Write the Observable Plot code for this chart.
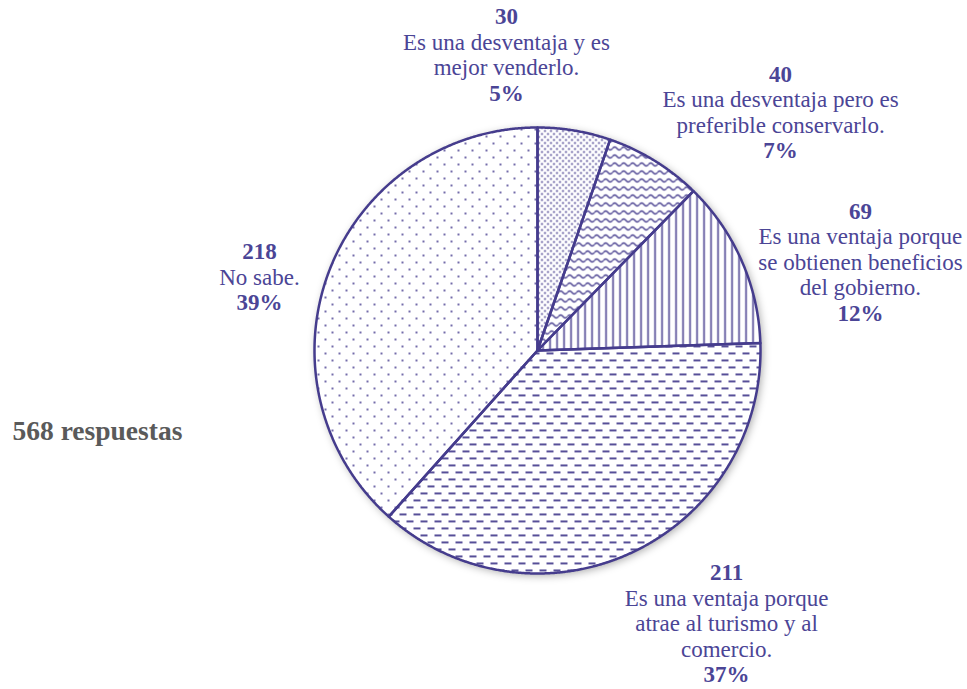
<!DOCTYPE html>
<html><head><meta charset="utf-8">
<script src="https://cdn.jsdelivr.net/npm/d3@7"></script>
<script src="https://cdn.jsdelivr.net/npm/@observablehq/plot@0.6"></script>
<style>body{margin:0;background:#fff} svg text{font-family:"Times New Roman","Liberation Serif","DejaVu Serif",serif !important;}</style>
</head><body><div id="chart"></div>
<script>
// ---- data ----
const categories = ["desventaja-vender", "desventaja-conservar", "ventaja-gobierno", "ventaja-turismo", "no-sabe"];
const counts = [30, 40, 69, 211, 218];
const percentLabels = ["5%", "7%", "12%", "37%", "39%"];
const descriptions = [
  ["Es una desventaja y es", "mejor venderlo."],
  ["Es una desventaja pero es", "preferible conservarlo."],
  ["Es una ventaja porque", "se obtienen beneficios", "del gobierno."],
  ["Es una ventaja porque", "atrae al turismo y al", "comercio."],
  ["No sabe."]
];
const totalLabel = "568 respuestas";

// ---- layout ----
const W = 967, H = 689, R = 223, CX = 537, CY = 350;
const C = "#453c8d", TXT = "#4b4596";
const FONT = "'Times New Roman', 'Liberation Serif', 'DejaVu Serif', serif";
const labelAnchors = [[-0.139, 1.325], [1.090, 1.067], [1.448, 0.395], [0.848, -1.226], [-1.247, 0.327]];
const LH = 25.5 / R;

const arcs = d3.pie().sort(null).value(d => d)(counts);
const slices = arcs.map((a, i) => {
  const pts = [{x: 0, y: 0}];
  const n = Math.max(4, Math.ceil((a.endAngle - a.startAngle) / 0.005));
  for (let k = 0; k <= n; k++) {
    const t = a.startAngle + (a.endAngle - a.startAngle) * k / n;
    pts.push({x: Math.sin(t), y: Math.cos(t)});
  }
  pts.push({x: 0, y: 0});
  return pts.map(p => ({...p, key: categories[i]}));
});
const allPts = slices.flat();

const rows = [];
counts.forEach((c, i) => {
  const lines = [String(c), ...descriptions[i], percentLabels[i]];
  const n = lines.length;
  lines.forEach((t, j) => rows.push({
    text: t, bold: j === 0 || j === n - 1,
    x: labelAnchors[i][0], y: labelAnchors[i][1] - (j - (n - 1) / 2) * LH
  }));
});

const defsMark = () => {
  const g = d3.create("svg:g");
  const defs = g.append("defs");
  const f = defs.append("filter").attr("id", "shadow").attr("x", "-20%").attr("y", "-20%").attr("width", "140%").attr("height", "140%");
  f.append("feDropShadow").attr("dx", 2).attr("dy", 2).attr("stdDeviation", 4).attr("flood-color", "#000").attr("flood-opacity", 0.35);
  const pat = (id, w, h) => defs.append("pattern").attr("id", id).attr("patternUnits", "userSpaceOnUse").attr("width", w).attr("height", h);
  let p = pat("p0", 6, 6);
  p.append("circle").attr("cx", 1.5).attr("cy", 1.5).attr("r", 0.95).attr("fill", C);
  p.append("circle").attr("cx", 4.5).attr("cy", 4.5).attr("r", 0.95).attr("fill", C);
  p = pat("p1", 9, 8);
  p.append("path").attr("d", "M0,4 Q2.25,1 4.5,4 T9,4").attr("fill", "none").attr("stroke", C).attr("stroke-width", 1.3);
  p = pat("p2", 7, 7);
  p.append("rect").attr("x", 2.8).attr("y", 0).attr("width", 1.5).attr("height", 7).attr("fill", C);
  p = pat("p3", 14, 14);
  p.append("rect").attr("x", 0).attr("y", 2).attr("width", 7).attr("height", 1.8).attr("fill", C);
  p.append("rect").attr("x", 7).attr("y", 9).attr("width", 7).attr("height", 1.8).attr("fill", C);
  p = pat("p4", 14, 14);
  p.append("circle").attr("cx", 3).attr("cy", 3).attr("r", 1).attr("fill", C);
  p.append("circle").attr("cx", 10).attr("cy", 10).attr("r", 1).attr("fill", C);
  return g.node();
};

const plot = Plot.plot({
  width: W, height: H,
  marginTop: 0, marginRight: 0, marginBottom: 0, marginLeft: 0,
  x: {domain: [-CX / R, (W - CX) / R], axis: null},
  y: {domain: [-(H - CY) / R, CY / R], axis: null},
  style: {fontFamily: FONT, background: "#fff"},
  marks: [
    defsMark,
    Plot.line(allPts, {x: "x", y: "y", z: "key", fill: "white", stroke: "none"}),
    ...slices.map((s, i) => Plot.line(s, {x: "x", y: "y", fill: `url(#p${i})`, stroke: C, strokeWidth: 2.5, strokeLinejoin: "round"})),
    Plot.text(rows.filter(d => d.bold), {x: "x", y: "y", text: "text", fill: TXT, fontSize: 23, fontWeight: "bold", fontFamily: FONT}),
    Plot.text(rows.filter(d => !d.bold), {x: "x", y: "y", text: "text", fill: TXT, fontSize: 23, fontFamily: FONT}),
    Plot.text([totalLabel], {x: (12 - CX) / R, y: (CY - 431) / R, text: d => d, textAnchor: "start", fill: "#5a5a5a", fontSize: 27.5, fontWeight: "bold", fontFamily: FONT})
  ]
});
d3.select(plot).selectAll('g[aria-label="line"]').filter((d, i) => i === 0).style("filter", "url(#shadow)");
document.getElementById("chart").appendChild(plot);
</script>
</body></html>
